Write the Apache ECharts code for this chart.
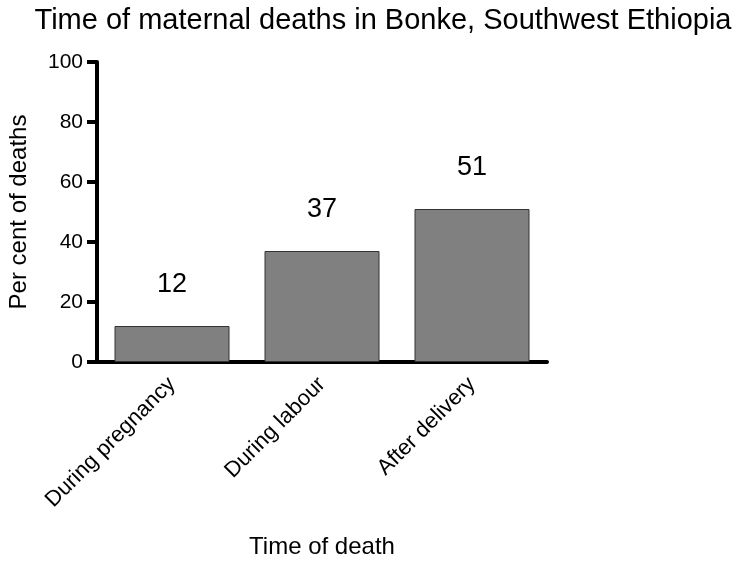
<!DOCTYPE html>
<html>
<head>
<meta charset="utf-8">
<script src="https://cdn.jsdelivr.net/npm/echarts@6/dist/echarts.min.js"></script>
<style>html,body{margin:0;padding:0;background:#fff;}#c{width:736px;height:561px;}</style>
</head>
<body>
<div id="c"></div>
<script>
var categories = ['During pregnancy', 'During labour', 'After delivery'];
var values = [12, 37, 51];
var yTicks = [0, 20, 40, 60, 80, 100];

var chart = echarts.init(document.getElementById('c'));
var font = 'Liberation Sans, Arial, sans-serif';
chart.setOption({
  animation: false,
  title: {
    text: 'Time of maternal deaths in Bonke, Southwest Ethiopia',
    left: 378, top: 1, textAlign: 'center',
    textStyle: {fontFamily: font, fontSize: 29, fontWeight: 'normal', color: '#000'}
  },
  grid: {left: 97, top: 62, width: 450, height: 300, containLabel: false, outerBoundsMode: 'none'},
  xAxis: {
    type: 'category',
    data: categories,
    name: 'Time of death',
    nameLocation: 'middle',
    nameGap: 173,
    nameTextStyle: {fontFamily: font, fontSize: 24, color: '#000'},
    axisLine: {lineStyle: {color: '#000', width: 4}},
    axisTick: {alignWithLabel: true, length: 10, lineStyle: {color: '#000', width: 4}},
    axisLabel: {rotate: 45, fontFamily: font, fontSize: 22, color: '#000', margin: 19, interval: 0}
  },
  yAxis: {
    type: 'value',
    min: yTicks[0], max: yTicks[yTicks.length - 1], interval: 20,
    name: 'Per cent of deaths',
    nameLocation: 'middle',
    nameGap: 66,
    nameTextStyle: {fontFamily: font, fontSize: 24, color: '#000'},
    splitLine: {show: false},
    axisLine: {show: true, lineStyle: {color: '#000', width: 4}},
    axisTick: {show: true, length: 10, lineStyle: {color: '#000', width: 4}},
    axisLabel: {fontFamily: font, fontSize: 21, color: '#000', margin: 14}
  },
  series: [{
    type: 'bar',
    data: values,
    barWidth: 115,
    itemStyle: {color: '#808080', borderColor: '#333', borderWidth: 1},
    label: {show: true, position: 'top', distance: 28, fontFamily: font, fontSize: 27, color: '#000'}
  }]
});
</script>
</body>
</html>
